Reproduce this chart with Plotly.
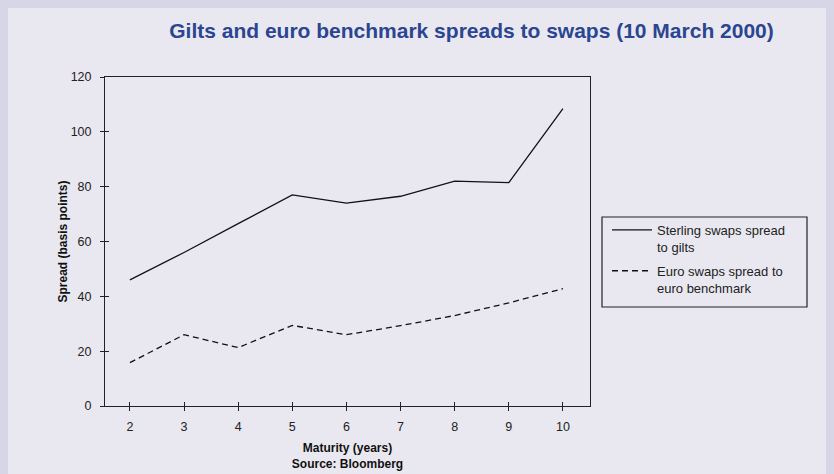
import plotly.graph_objects as go

maturity = [2, 3, 4, 5, 6, 7, 8, 9, 10]
sterling = [46, 56, 66.5, 77, 74, 76.5, 82, 81.5, 108.5]
euro = [15.8, 26, 21.3, 29.4, 26, 29.3, 33, 37.6, 42.8]
y_ticks = [0, 20, 40, 60, 80, 100, 120]

FONT = "Liberation Sans, Arial, sans-serif"

fig = go.Figure()
fig.add_trace(go.Scatter(x=maturity, y=sterling, mode="lines",
                         name="Sterling swaps spread<br>to gilts", legendgroup="a",
                         line=dict(color="#111111", width=1.3)))
fig.add_trace(go.Scatter(x=maturity, y=euro, mode="lines",
                         name="Euro swaps spread to<br>euro benchmark", legendgroup="b",
                         line=dict(color="#111111", width=1.3, dash="6px,4px")))
# invisible trace carrying the inner half of the crossing tick marks
fig.add_trace(go.Scatter(x=maturity, y=euro, mode="lines", xaxis="x2", yaxis="y2",
                         line=dict(width=0), opacity=0, showlegend=False, hoverinfo="skip"))

# page is offset by the 8px body margin
W, H = 826, 466
L, R, T, B = 97, 582, 69, 398
pw, ph = R - L, B - T

def px_x(fx):
    return (fx - L) / pw

def px_y(fy):
    return (B - fy) / ph

fig.update_layout(
    width=W, height=H,
    margin=dict(l=L, r=W - R, t=T, b=H - B),
    paper_bgcolor="#e9e8f0",
    plot_bgcolor="rgba(0,0,0,0)",
    font=dict(family=FONT, color="#222222", size=12),
    title=dict(text="<b>Gilts and euro benchmark spreads to swaps (10 March 2000)</b>",
               x=463.5 / W, xanchor="center", y=1 - 23 / H, yanchor="middle",
               font=dict(size=21, color="#2b4590", family=FONT)),
    xaxis=dict(range=[1.54, 10.5], tickvals=maturity, ticks="outside", ticklen=4,
               tickcolor="#222", showline=True, linecolor="#222", linewidth=1,
               mirror=True, showgrid=False, zeroline=False, automargin=False,
               tickfont=dict(size=12.5), ticklabelstandoff=5,
               title=dict(text="<b>Maturity (years)<br>Source: Bloomberg</b>",
                          font=dict(size=12, color="#111"), standoff=10)),
    yaxis=dict(range=[0, 120], tickvals=y_ticks, ticks="outside", ticklen=4,
               tickcolor="#222", showline=True, linecolor="#222", linewidth=1,
               mirror=True, showgrid=False, zeroline=False, automargin=False,
               tickfont=dict(size=12.5), ticklabelstandoff=6,
               title=dict(text="<b>Spread (basis points)</b>",
                          font=dict(size=12, color="#111"), standoff=0)),
    xaxis2=dict(range=[1.54, 10.5], tickvals=maturity, ticks="inside", ticklen=4,
                tickcolor="#222", overlaying="x", side="bottom", showticklabels=False,
                showline=False, showgrid=False, zeroline=False, automargin=False),
    yaxis2=dict(range=[0, 120], tickvals=y_ticks, ticks="inside", ticklen=4,
                tickcolor="#222", overlaying="y", side="left", showticklabels=False,
                showline=False, showgrid=False, zeroline=False, automargin=False),
    legend=dict(x=px_x(599), y=px_y(207), xanchor="left", yanchor="top",
                bgcolor="rgba(0,0,0,0)", borderwidth=0, itemwidth=40, valign="top",
                font=dict(size=13, color="#222"), tracegroupgap=4),
    shapes=[dict(type="rect", xref="paper", yref="paper", layer="below",
                 x0=px_x(594), x1=px_x(799), y0=px_y(299), y1=px_y(209),
                 fillcolor="rgba(0,0,0,0)", line=dict(width=1.2, color="#222"))],
    showlegend=True,
)

fig.write_html("out.html", post_script="document.body.style.background='#d6d6e6';")
